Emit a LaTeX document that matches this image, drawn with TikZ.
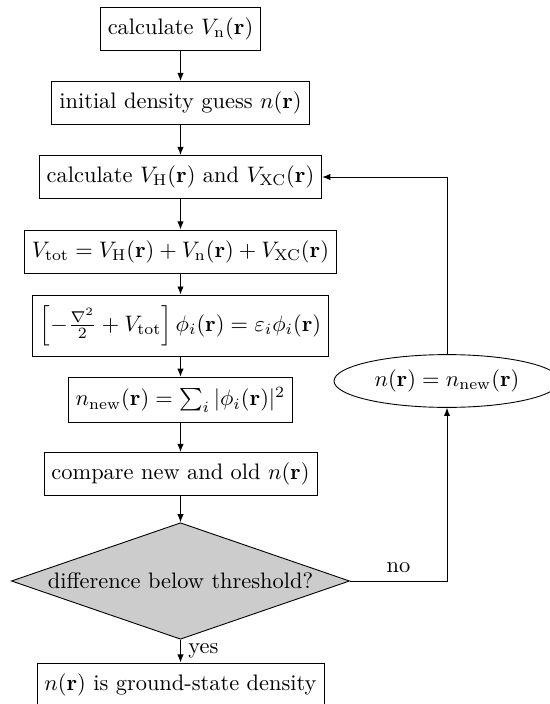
\documentclass[tikz,border=0pt]{standalone}
\usetikzlibrary{shapes.geometric,arrows.meta}
\begin{document}
\begin{tikzpicture}[x=0.4464pt,y=-0.4464pt,
  box/.style={draw, rectangle, inner xsep=3.33pt, inner ysep=4.6pt},
  arr/.style={-{Latex[length=3.6pt,width=2.8pt]}},
  decision/.style={diamond, draw, fill=black!20, aspect=2.9, inner sep=1pt,
                   minimum width=151pt, minimum height=52pt},
  loopnode/.style={ellipse, draw}]
\useasboundingbox (0,0) rectangle (549,704);
\node[box] (n1) at (180.5,28.5) {calculate $V_\mathrm{n}(\mathbf{r})$};
\node[box] (n2) at (180.5,103) {initial density guess $n(\mathbf{r})$};
\node[box] (n3) at (180.5,177) {calculate $V_\mathrm{H}(\mathbf{r})$ and $V_\mathrm{XC}(\mathbf{r})$};
\node[box] (n4) at (180.5,251.5) {$V_\mathrm{tot} = V_\mathrm{H}(\mathbf{r}) + V_\mathrm{n}(\mathbf{r}) + V_\mathrm{XC}(\mathbf{r})$};
\node[box] (n5) at (180.5,325.5) {$\left[-\frac{\nabla^2}{2} + V_\mathrm{tot}\right]\phi_i(\mathbf{r}) = \varepsilon_i\phi_i(\mathbf{r})$};
\node[box] (n6) at (180.5,400) {$n_\mathrm{new}(\mathbf{r}) = \sum_i |\phi_i(\mathbf{r})|^2$};
\node[box] (n7) at (180.5,474) {compare new and old $n(\mathbf{r})$};
\node[decision] (dec) at (180.5,581) {difference below threshold?};
\node[box] (n8) at (180.5,684.5) {$n(\mathbf{r})$ is ground-state density};
\node[loopnode] (ell) at (447,381) {$n(\mathbf{r}) = n_\mathrm{new}(\mathbf{r})$};
\draw[arr] (n1) -- (n2);
\draw[arr] (n2) -- (n3);
\draw[arr] (n3) -- (n4);
\draw[arr] (n4) -- (n5);
\draw[arr] (n5) -- (n6);
\draw[arr] (n6) -- (n7);
\draw[arr] (n7) -- (dec);
\draw[arr] (dec) -- node[right] {yes} (n8);
\draw[arr] (dec.east) -| node[pos=0.25, above] {no} (ell.south);
\draw[arr] (ell.north) |- (n3.east);
\end{tikzpicture}
\end{document}
